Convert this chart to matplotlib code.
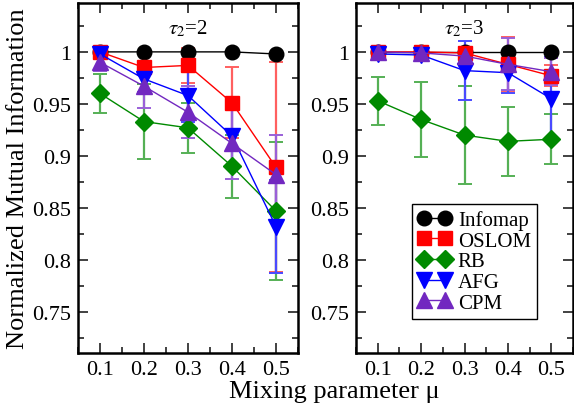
import matplotlib
matplotlib.use('Agg')
import matplotlib.pyplot as plt
from matplotlib.ticker import MultipleLocator, FuncFormatter

plt.rcParams['font.family'] = ['Liberation Serif', 'DejaVu Serif']
plt.rcParams['mathtext.fontset'] = 'stix'

mu = [0.1, 0.2, 0.3, 0.4, 0.5]
metodi = ['Infomap', 'OSLOM', 'RB', 'AFG', 'CPM']

# tau2 = 2
infomap_2 = [1.0, 1.0, 1.0, 1.0, 0.998]
infomap_2_err = [0.0, 0.0, 0.0, 0.0, 0.0]
oslom_2 = [1.0, 0.985, 0.987, 0.951, 0.889]
oslom_2_err = [0.002, 0.016, 0.017, 0.034, 0.101]
rb_2 = [0.960, 0.933, 0.927, 0.890, 0.847]
rb_2_err = [0.019, 0.036, 0.024, 0.030, 0.066]
afg_2 = [0.998, 0.974, 0.958, 0.919, 0.832]
afg_2_err = [0.003, 0.013, 0.025, 0.030, 0.045]
cpm_2 = [0.990, 0.967, 0.942, 0.912, 0.882]
cpm_2_err = [0.008, 0.021, 0.025, 0.034, 0.038]

# tau2 = 3
infomap_3 = [1.0, 1.0, 1.0, 1.0, 1.0]
infomap_3_err = [0.0, 0.0, 0.0, 0.0, 0.0]
oslom_3 = [1.0, 1.0, 0.999, 0.988, 0.977]
oslom_3_err = [0.002, 0.002, 0.006, 0.026, 0.010]
rb_3 = [0.953, 0.935, 0.920, 0.914, 0.916]
rb_3_err = [0.023, 0.036, 0.047, 0.033, 0.024]
afg_3 = [0.998, 0.997, 0.982, 0.980, 0.955]
afg_3_err = [0.004, 0.004, 0.028, 0.020, 0.040]
cpm_3 = [1.0, 0.999, 0.996, 0.988, 0.981]
cpm_3_err = [0.002, 0.003, 0.006, 0.025, 0.013]

colori = ['black', '#ff0000', '#008a00', '#0000ff', '#7228c0']
colori_err = ['black', '#ff6060', '#55b055', '#4a4aff', '#9a60d8']
marker = ['o', 's', 'D', 'v', '^']
msize = [10.5, 10.5, 9, 11, 11]

fig = plt.figure(figsize=(5.74, 4.06), dpi=100)
W, H = 574, 406
ax1 = fig.add_axes([78 / W, (H - 354) / H, (298 - 78) / W, (354 - 4) / H])
ax2 = fig.add_axes([356 / W, (H - 354) / H, (573 - 356) / W, (354 - 4) / H])

pannelli = [
    (ax1, [infomap_2, oslom_2, rb_2, afg_2, cpm_2],
     [infomap_2_err, oslom_2_err, rb_2_err, afg_2_err, cpm_2_err], r'$\tau_2$=2'),
    (ax2, [infomap_3, oslom_3, rb_3, afg_3, cpm_3],
     [infomap_3_err, oslom_3_err, rb_3_err, afg_3_err, cpm_3_err], r'$\tau_2$=3'),
]

fmt = FuncFormatter(lambda v, p: '%g' % round(v, 3))

for ax, serie, errori, titolo in pannelli:
    linee = []
    for nome, y, e, c, ce, m, ms in zip(metodi, serie, errori, colori,
                                        colori_err, marker, msize):
        if any(e):
            ax.errorbar(mu, y, yerr=e, fmt='none', ecolor=ce, elinewidth=1.6,
                        capsize=5, capthick=1.4, zorder=2)
        l, = ax.plot(mu, y, '-', marker=m, color=c, markersize=ms, lw=1.0,
                     label=nome, zorder=3)
        linee.append(l)
    ax.set_xlim(0.05, 0.55)
    ax.set_ylim(0.7105, 1.047)
    ax.xaxis.set_major_locator(MultipleLocator(0.1))
    ax.xaxis.set_minor_locator(MultipleLocator(0.05))
    ax.yaxis.set_major_locator(MultipleLocator(0.05))
    ax.yaxis.set_minor_locator(MultipleLocator(0.025))
    ax.xaxis.set_major_formatter(fmt)
    ax.yaxis.set_major_formatter(fmt)
    ax.tick_params(which='both', direction='in', top=True, right=True,
                   labelsize=16, width=1.3, color='#333333')
    ax.tick_params(which='major', length=7, pad=5)
    ax.tick_params(which='minor', length=4)
    for s in ax.spines.values():
        s.set_linewidth(1.8)
    ax.text(0.5, 0.93, titolo, transform=ax.transAxes, ha='center',
            va='center', fontsize=15)

ax2.legend(linee, metodi, loc='upper left', bbox_to_anchor=(0.258, 0.426),
           numpoints=2, fontsize=15, frameon=True, fancybox=False,
           edgecolor='black', framealpha=1, borderpad=0.3,
           labelspacing=0.05, handlelength=1.6, handletextpad=0.3,
           borderaxespad=0)
ax2.get_legend().get_frame().set_linewidth(1.0)

ax1.set_ylabel('Normalized Mutual Information', fontsize=19, labelpad=2)
fig.text(334 / W, 1 - 392 / H, 'Mixing parameter μ', ha='center',
         va='center', fontsize=19)

fig.savefig('out.png', dpi=100)
